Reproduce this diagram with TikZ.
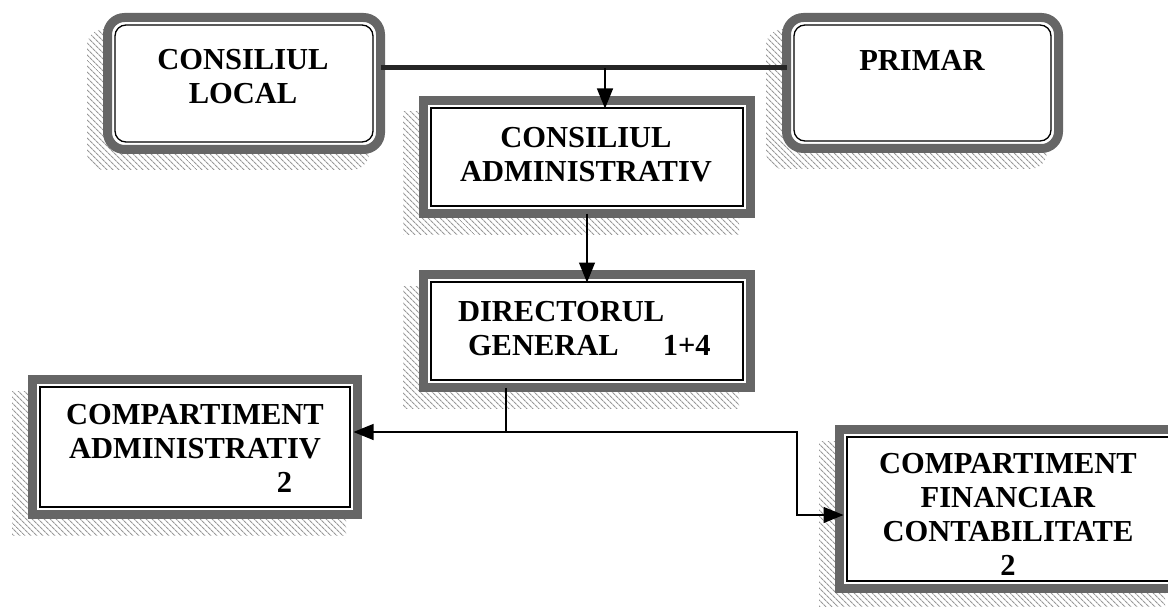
\documentclass[tikz,border=0pt]{standalone}
\usepackage{fontspec}
\setmainfont{Liberation Serif}
\usetikzlibrary{arrows.meta,patterns.meta}
\tikzset{
  shadowpat/.style={pattern={Lines[angle=-45,distance=4pt,line width=1.1pt]},pattern color=black!40},
  bandbox/.style={draw=black!60,line width=9pt,fill=white,inner sep=0pt,outer sep=0pt},
  innerline/.style={draw=black,line width=1.3pt},
  roundO/.style={rounded corners=17pt},
  roundI/.style={rounded corners=11pt},
  sharpO/.style={sharp corners},
  txt/.style={font=\bfseries\fontsize{30.5}{34}\selectfont,inner sep=0pt,outer sep=0pt},
  arr/.style={draw=black,line width=1.2pt,-{Triangle[length=20pt,width=16pt]}},
  conn/.style={draw=black,line width=1.2pt}
}
\newcommand{\orgbox}[7]{%
  \path[shadowpat,#6] ({#2-16},{#3+16}) rectangle ({#4-16},{#5+16});
  \node[bandbox,#6,minimum width={#4-#2-9},minimum height={#5-#3-9}] (#1) at ({(#2+#4)/2},{(#3+#5)/2}) {};
  \draw[innerline,#7] ([shift={(7.5pt,-7.5pt)}]#1.north west) rectangle ([shift={(-7.5pt,7.5pt)}]#1.south east);
}
\begin{document}
\begin{tikzpicture}[x=1pt,y=-1pt]
\useasboundingbox (0,0) rectangle (1168,607);
% boxes
\orgbox{cl}{103}{13}{385}{154}{roundO}{roundI}
\orgbox{pr}{782}{13}{1063}{153}{roundO}{roundI}
\orgbox{ca}{419}{96}{755}{218}{sharpO}{sharpO}
\orgbox{dg}{419}{270}{755}{392}{sharpO}{sharpO}
\orgbox{cadm}{28}{375}{362}{519}{sharpO}{sharpO}
\orgbox{cfc}{835}{425}{1181}{593}{sharpO}{sharpO}
% texts
\node[txt,align=center,anchor=north] (tcl) at (243,49) {CONSILIUL\\LOCAL};
\node[txt,align=center,anchor=north] (tpr) at (922,50) {PRIMAR};
\node[txt,align=center,anchor=north] (tca) at (586,127) {CONSILIUL\\ADMINISTRATIV};
\node[txt,align=left,anchor=north west] (tdg) at (458,301) {DIRECTORUL\\\hspace*{10pt}GENERAL\hspace*{44pt}1+4};
\node[txt,align=center,anchor=north] (tcadm) at (195,404) {COMPARTIMENT\\ADMINISTRATIV\\\hspace*{179pt}2};
\node[txt,align=center,anchor=north] (tcfc) at (1008,453) {COMPARTIMENT\\FINANCIAR\\CONTABILITATE\\2};
% connectors
\coordinate (j1) at (605,68);
\draw[line width=5pt,black!85] (cl.east |- j1) -- (pr.west |- j1);
\draw[arr,shorten >=-8pt] (j1) -- (ca.north -| j1);
\draw[arr,shorten >=-8pt] (ca.south) -- (dg.north);
\coordinate (j2) at (506,432);
\coordinate (j3) at (797,515);
\draw[conn] (dg.south -| j2) -- (j2);
\draw[arr,shorten >=-4pt] (j2) -- (cadm.east |- j2);
\draw[arr,shorten >=-4pt] (j2) -- (j2 -| j3) -- (j3) -- (cfc.west |- j3);
\end{tikzpicture}
\end{document}
